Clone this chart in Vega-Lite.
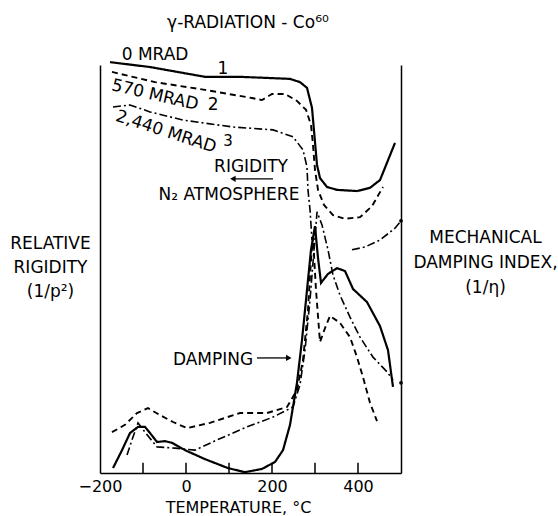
{
  "$schema": "https://vega.github.io/schema/vega-lite/v6.json",
  "width": 301,
  "height": 408,
  "autosize": "none",
  "padding": {"left": 100, "top": 65, "right": 157, "bottom": 43},
  "background": "white",
  "config": {
    "view": {"stroke": null},
    "font": "DejaVu Sans",
    "text": {"font": "DejaVu Sans", "fontSize": 17, "color": "black"},
    "axis": {"domainColor": "black", "domainWidth": 1.5, "tickColor": "black", "tickWidth": 1.5, "grid": false, "labelFont": "DejaVu Sans", "titleFont": "DejaVu Sans", "labelColor": "black", "titleColor": "black", "titleFontWeight": "normal"}
  },
  "datasets": {
    "curves": [
      {"dose": "0 Mrad", "part": "rigidity", "i": 1, "x": -176.7, "y": 100.7},
      {"dose": "0 Mrad", "part": "rigidity", "i": 2, "x": -83.7, "y": 99.5},
      {"dose": "0 Mrad", "part": "rigidity", "i": 3, "x": 44.2, "y": 97.1},
      {"dose": "0 Mrad", "part": "rigidity", "i": 4, "x": 125.6, "y": 97.1},
      {"dose": "0 Mrad", "part": "rigidity", "i": 5, "x": 195.3, "y": 96.8},
      {"dose": "0 Mrad", "part": "rigidity", "i": 6, "x": 241.9, "y": 96.6},
      {"dose": "0 Mrad", "part": "rigidity", "i": 7, "x": 265.1, "y": 95.8},
      {"dose": "0 Mrad", "part": "rigidity", "i": 8, "x": 281.4, "y": 94.4},
      {"dose": "0 Mrad", "part": "rigidity", "i": 9, "x": 293.0, "y": 89.5},
      {"dose": "0 Mrad", "part": "rigidity", "i": 10, "x": 300.0, "y": 81.1},
      {"dose": "0 Mrad", "part": "rigidity", "i": 11, "x": 304.7, "y": 75.5},
      {"dose": "0 Mrad", "part": "rigidity", "i": 12, "x": 311.6, "y": 72.3},
      {"dose": "0 Mrad", "part": "rigidity", "i": 13, "x": 327.9, "y": 70.1},
      {"dose": "0 Mrad", "part": "rigidity", "i": 14, "x": 351.2, "y": 69.4},
      {"dose": "0 Mrad", "part": "rigidity", "i": 15, "x": 397.7, "y": 69.1},
      {"dose": "0 Mrad", "part": "rigidity", "i": 16, "x": 427.9, "y": 69.9},
      {"dose": "0 Mrad", "part": "rigidity", "i": 17, "x": 451.2, "y": 71.8},
      {"dose": "0 Mrad", "part": "rigidity", "i": 18, "x": 486.0, "y": 80.9},

      {"dose": "570 Mrad", "part": "rigidity", "i": 1, "x": -172.1, "y": 98.3},
      {"dose": "570 Mrad", "part": "rigidity", "i": 2, "x": -72.1, "y": 95.8},
      {"dose": "570 Mrad", "part": "rigidity", "i": 3, "x": 44.2, "y": 93.9},
      {"dose": "570 Mrad", "part": "rigidity", "i": 4, "x": 153.5, "y": 91.9},
      {"dose": "570 Mrad", "part": "rigidity", "i": 5, "x": 176.7, "y": 91.4},
      {"dose": "570 Mrad", "part": "rigidity", "i": 6, "x": 200.0, "y": 92.9},
      {"dose": "570 Mrad", "part": "rigidity", "i": 7, "x": 230.2, "y": 92.9},
      {"dose": "570 Mrad", "part": "rigidity", "i": 8, "x": 258.1, "y": 91.2},
      {"dose": "570 Mrad", "part": "rigidity", "i": 9, "x": 279.1, "y": 89.0},
      {"dose": "570 Mrad", "part": "rigidity", "i": 10, "x": 290.7, "y": 85.3},
      {"dose": "570 Mrad", "part": "rigidity", "i": 11, "x": 295.3, "y": 80.4},
      {"dose": "570 Mrad", "part": "rigidity", "i": 12, "x": 300.0, "y": 74.3},
      {"dose": "570 Mrad", "part": "rigidity", "i": 13, "x": 307.0, "y": 69.4},
      {"dose": "570 Mrad", "part": "rigidity", "i": 14, "x": 320.9, "y": 65.7},
      {"dose": "570 Mrad", "part": "rigidity", "i": 15, "x": 341.9, "y": 63.2},
      {"dose": "570 Mrad", "part": "rigidity", "i": 16, "x": 369.8, "y": 62.3},
      {"dose": "570 Mrad", "part": "rigidity", "i": 17, "x": 404.7, "y": 62.7},
      {"dose": "570 Mrad", "part": "rigidity", "i": 18, "x": 432.6, "y": 65.4},
      {"dose": "570 Mrad", "part": "rigidity", "i": 19, "x": 458.1, "y": 70.1},

      {"dose": "2440 Mrad", "part": "rigidity", "i": 1, "x": -169.8, "y": 89.7},
      {"dose": "2440 Mrad", "part": "rigidity", "i": 2, "x": -130.2, "y": 90.2},
      {"dose": "2440 Mrad", "part": "rigidity", "i": 3, "x": -83.7, "y": 88.5},
      {"dose": "2440 Mrad", "part": "rigidity", "i": 4, "x": -7.0, "y": 86.5},
      {"dose": "2440 Mrad", "part": "rigidity", "i": 5, "x": 109.3, "y": 84.8},
      {"dose": "2440 Mrad", "part": "rigidity", "i": 6, "x": 202.3, "y": 84.1},
      {"dose": "2440 Mrad", "part": "rigidity", "i": 7, "x": 248.8, "y": 82.4},
      {"dose": "2440 Mrad", "part": "rigidity", "i": 8, "x": 272.1, "y": 79.2},
      {"dose": "2440 Mrad", "part": "rigidity", "i": 9, "x": 281.4, "y": 75.0},
      {"dose": "2440 Mrad", "part": "rigidity", "i": 10, "x": 283.7, "y": 69.4},
      {"dose": "2440 Mrad", "part": "rigidity", "i": 11, "x": 288.4, "y": 64.5},
      {"dose": "2440 Mrad", "part": "rigidity", "i": 12, "x": 293.0, "y": 57.1},

      {"dose": "2440 Mrad", "part": "rigidity-high", "i": 1, "x": 386.0, "y": 54.7},
      {"dose": "2440 Mrad", "part": "rigidity-high", "i": 2, "x": 416.3, "y": 55.4},
      {"dose": "2440 Mrad", "part": "rigidity-high", "i": 3, "x": 451.2, "y": 57.1},
      {"dose": "2440 Mrad", "part": "rigidity-high", "i": 4, "x": 486.0, "y": 60.0},
      {"dose": "2440 Mrad", "part": "rigidity-high", "i": 5, "x": 500.0, "y": 61.8},

      {"dose": "0 Mrad", "part": "damping", "i": 1, "x": -169.8, "y": 1.2},
      {"dose": "0 Mrad", "part": "damping", "i": 2, "x": -148.8, "y": 5.6},
      {"dose": "0 Mrad", "part": "damping", "i": 3, "x": -130.2, "y": 9.8},
      {"dose": "0 Mrad", "part": "damping", "i": 4, "x": -111.6, "y": 11.3},
      {"dose": "0 Mrad", "part": "damping", "i": 5, "x": -95.3, "y": 11.3},
      {"dose": "0 Mrad", "part": "damping", "i": 6, "x": -83.7, "y": 9.8},
      {"dose": "0 Mrad", "part": "damping", "i": 7, "x": -67.4, "y": 7.6},
      {"dose": "0 Mrad", "part": "damping", "i": 8, "x": -48.8, "y": 7.8},
      {"dose": "0 Mrad", "part": "damping", "i": 9, "x": -32.6, "y": 7.4},
      {"dose": "0 Mrad", "part": "damping", "i": 10, "x": -2.3, "y": 5.6},
      {"dose": "0 Mrad", "part": "damping", "i": 11, "x": 44.2, "y": 3.4},
      {"dose": "0 Mrad", "part": "damping", "i": 12, "x": 97.7, "y": 1.2},
      {"dose": "0 Mrad", "part": "damping", "i": 13, "x": 137.2, "y": 0.2},
      {"dose": "0 Mrad", "part": "damping", "i": 14, "x": 176.7, "y": 1.0},
      {"dose": "0 Mrad", "part": "damping", "i": 15, "x": 207.0, "y": 2.7},
      {"dose": "0 Mrad", "part": "damping", "i": 16, "x": 225.6, "y": 5.6},
      {"dose": "0 Mrad", "part": "damping", "i": 17, "x": 241.9, "y": 11.8},
      {"dose": "0 Mrad", "part": "damping", "i": 18, "x": 258.1, "y": 22.1},
      {"dose": "0 Mrad", "part": "damping", "i": 19, "x": 269.8, "y": 32.6},
      {"dose": "0 Mrad", "part": "damping", "i": 20, "x": 279.1, "y": 42.4},
      {"dose": "0 Mrad", "part": "damping", "i": 21, "x": 290.7, "y": 54.7},
      {"dose": "0 Mrad", "part": "damping", "i": 22, "x": 300.0, "y": 60.5},
      {"dose": "0 Mrad", "part": "damping", "i": 23, "x": 307.0, "y": 52.7},
      {"dose": "0 Mrad", "part": "damping", "i": 24, "x": 314.0, "y": 46.6},
      {"dose": "0 Mrad", "part": "damping", "i": 25, "x": 330.2, "y": 48.8},
      {"dose": "0 Mrad", "part": "damping", "i": 26, "x": 351.2, "y": 50.2},
      {"dose": "0 Mrad", "part": "damping", "i": 27, "x": 369.8, "y": 49.5},
      {"dose": "0 Mrad", "part": "damping", "i": 28, "x": 388.4, "y": 45.1},
      {"dose": "0 Mrad", "part": "damping", "i": 29, "x": 420.9, "y": 41.9},
      {"dose": "0 Mrad", "part": "damping", "i": 30, "x": 451.2, "y": 36.0},
      {"dose": "0 Mrad", "part": "damping", "i": 31, "x": 469.8, "y": 30.1},
      {"dose": "0 Mrad", "part": "damping", "i": 32, "x": 481.4, "y": 21.1},

      {"dose": "570 Mrad", "part": "damping", "i": 1, "x": -172.1, "y": 10.0},
      {"dose": "570 Mrad", "part": "damping", "i": 2, "x": -141.9, "y": 11.8},
      {"dose": "570 Mrad", "part": "damping", "i": 3, "x": -114.0, "y": 14.7},
      {"dose": "570 Mrad", "part": "damping", "i": 4, "x": -88.4, "y": 15.9},
      {"dose": "570 Mrad", "part": "damping", "i": 5, "x": -60.5, "y": 14.2},
      {"dose": "570 Mrad", "part": "damping", "i": 6, "x": -30.2, "y": 12.5},
      {"dose": "570 Mrad", "part": "damping", "i": 7, "x": 2.3, "y": 11.0},
      {"dose": "570 Mrad", "part": "damping", "i": 8, "x": 55.8, "y": 12.3},
      {"dose": "570 Mrad", "part": "damping", "i": 9, "x": 125.6, "y": 14.7},
      {"dose": "570 Mrad", "part": "damping", "i": 10, "x": 188.4, "y": 14.7},
      {"dose": "570 Mrad", "part": "damping", "i": 11, "x": 234.9, "y": 16.2},
      {"dose": "570 Mrad", "part": "damping", "i": 12, "x": 258.1, "y": 20.3},
      {"dose": "570 Mrad", "part": "damping", "i": 13, "x": 272.1, "y": 27.7},
      {"dose": "570 Mrad", "part": "damping", "i": 14, "x": 283.7, "y": 40.0},
      {"dose": "570 Mrad", "part": "damping", "i": 15, "x": 290.7, "y": 52.2},
      {"dose": "570 Mrad", "part": "damping", "i": 16, "x": 295.3, "y": 57.8},
      {"dose": "570 Mrad", "part": "damping", "i": 17, "x": 302.3, "y": 44.9},
      {"dose": "570 Mrad", "part": "damping", "i": 18, "x": 311.6, "y": 32.1},
      {"dose": "570 Mrad", "part": "damping", "i": 19, "x": 323.3, "y": 35.5},
      {"dose": "570 Mrad", "part": "damping", "i": 20, "x": 334.9, "y": 38.5},
      {"dose": "570 Mrad", "part": "damping", "i": 21, "x": 358.1, "y": 36.8},
      {"dose": "570 Mrad", "part": "damping", "i": 22, "x": 381.4, "y": 33.3},
      {"dose": "570 Mrad", "part": "damping", "i": 23, "x": 397.7, "y": 28.4},
      {"dose": "570 Mrad", "part": "damping", "i": 24, "x": 411.6, "y": 23.5},
      {"dose": "570 Mrad", "part": "damping", "i": 25, "x": 427.9, "y": 17.2},
      {"dose": "570 Mrad", "part": "damping", "i": 26, "x": 444.2, "y": 12.7},

      {"dose": "2440 Mrad", "part": "damping", "i": 1, "x": -137.2, "y": 4.4},
      {"dose": "2440 Mrad", "part": "damping", "i": 2, "x": -125.6, "y": 8.1},
      {"dose": "2440 Mrad", "part": "damping", "i": 3, "x": -111.6, "y": 12.3},
      {"dose": "2440 Mrad", "part": "damping", "i": 4, "x": -95.3, "y": 10.0},
      {"dose": "2440 Mrad", "part": "damping", "i": 5, "x": -67.4, "y": 6.4},
      {"dose": "2440 Mrad", "part": "damping", "i": 6, "x": -25.6, "y": 6.1},
      {"dose": "2440 Mrad", "part": "damping", "i": 7, "x": 20.9, "y": 5.6},
      {"dose": "2440 Mrad", "part": "damping", "i": 8, "x": 72.1, "y": 8.1},
      {"dose": "2440 Mrad", "part": "damping", "i": 9, "x": 141.9, "y": 11.3},
      {"dose": "2440 Mrad", "part": "damping", "i": 10, "x": 202.3, "y": 13.7},
      {"dose": "2440 Mrad", "part": "damping", "i": 11, "x": 248.8, "y": 16.2},
      {"dose": "2440 Mrad", "part": "damping", "i": 12, "x": 265.1, "y": 21.6},
      {"dose": "2440 Mrad", "part": "damping", "i": 13, "x": 276.7, "y": 30.1},
      {"dose": "2440 Mrad", "part": "damping", "i": 14, "x": 288.4, "y": 42.4},
      {"dose": "2440 Mrad", "part": "damping", "i": 15, "x": 297.7, "y": 54.7},
      {"dose": "2440 Mrad", "part": "damping", "i": 16, "x": 304.7, "y": 64.0},
      {"dose": "2440 Mrad", "part": "damping", "i": 17, "x": 316.3, "y": 60.8},
      {"dose": "2440 Mrad", "part": "damping", "i": 18, "x": 330.2, "y": 54.7},
      {"dose": "2440 Mrad", "part": "damping", "i": 19, "x": 341.9, "y": 48.5},
      {"dose": "2440 Mrad", "part": "damping", "i": 20, "x": 358.1, "y": 43.6},
      {"dose": "2440 Mrad", "part": "damping", "i": 21, "x": 381.4, "y": 38.2},
      {"dose": "2440 Mrad", "part": "damping", "i": 22, "x": 404.7, "y": 33.3},
      {"dose": "2440 Mrad", "part": "damping", "i": 23, "x": 434.9, "y": 28.4},
      {"dose": "2440 Mrad", "part": "damping", "i": 24, "x": 467.4, "y": 24.8},
      {"dose": "2440 Mrad", "part": "damping", "i": 25, "x": 481.4, "y": 22.8}
    ],
    "dots": [
      {"x": 500, "y": 61.8},
      {"x": 500, "y": 22.1}
    ],
    "ticks": [
      {"t": -100}, {"t": 0}, {"t": 100}, {"t": 200}, {"t": 300}, {"t": 400}
    ],
    "one": [{}]
  },
  "layer": [
    {
      "data": {"name": "curves"},
      "mark": {"type": "line", "color": "black", "strokeCap": "butt"},
      "encoding": {
        "x": {"field": "x", "type": "quantitative", "scale": {"domain": [-200, 500], "nice": false, "zero": false},
          "axis": {"orient": "bottom", "values": [-200, 0, 200, 400], "ticks": false, "labelPadding": 5, "labelFlush": false,
            "format": "d", "labelFontSize": 16,
            "title": "TEMPERATURE, °C", "titleFontSize": 16, "titleX": 138, "titleY": 34, "titleBaseline": "middle", "titleAlign": "center"}},
        "y": {"field": "y", "type": "quantitative", "scale": {"domain": [0, 100], "nice": false, "zero": false},
          "axis": {"orient": "left", "ticks": false, "labels": false,
            "title": ["RELATIVE", "RIGIDITY", "(1/p²)"], "titleAngle": 0, "titleAlign": "center", "titleBaseline": "top",
            "titleX": -50, "titleY": 170, "titleFontSize": 17, "titleLineHeight": 24}},
        "strokeDash": {"field": "dose", "type": "nominal", "legend": null,
          "scale": {"domain": ["0 Mrad", "570 Mrad", "2440 Mrad"], "range": [[1, 0], [6, 4], [8, 3, 2, 3]]}},
        "strokeWidth": {"field": "dose", "type": "nominal", "legend": null,
          "scale": {"domain": ["0 Mrad", "570 Mrad", "2440 Mrad"], "range": [2.2, 1.6, 1.3]}},
        "detail": {"field": "part", "type": "nominal"},
        "order": {"field": "i", "type": "quantitative"}
      }
    },
    {
      "data": {"name": "dots"},
      "mark": {"type": "point", "filled": true, "color": "black", "size": 14, "opacity": 1},
      "encoding": {
        "x": {"field": "x", "type": "quantitative"},
        "y": {"field": "y", "type": "quantitative",
          "axis": {"orient": "right", "ticks": false, "labels": false,
            "title": ["MECHANICAL", "DAMPING INDEX,", "(1/η)"], "titleAngle": 0, "titleAlign": "center", "titleBaseline": "top",
            "titleX": 84, "titleY": 164, "titleFontSize": 17, "titleLineHeight": 25}}
      }
    },
    {
      "data": {"name": "ticks"},
      "mark": {"type": "rule", "color": "black", "strokeWidth": 1.5},
      "encoding": {
        "x": {"field": "t", "type": "quantitative"},
        "y": {"datum": 0, "axis": null},
        "y2": {"datum": 2.5}
      }
    },
    {"data": {"name": "one"}, "mark": {"type": "text", "text": "γ-RADIATION - Co⁶⁰", "fontSize": 17}, "encoding": {"x": {"datum": 144}, "y": {"datum": 110.4, "axis": null}}},
    {"data": {"name": "one"}, "mark": {"type": "text", "text": "0 MRAD"}, "encoding": {"x": {"datum": -72}, "y": {"datum": 102.5, "axis": null}}},
    {"data": {"name": "one"}, "mark": {"type": "text", "text": "1"}, "encoding": {"x": {"datum": 86}, "y": {"datum": 99.0, "axis": null}}},
    {"data": {"name": "one"}, "mark": {"type": "text", "text": "570 MRAD", "angle": 13}, "encoding": {"x": {"datum": -72}, "y": {"datum": 92.6, "axis": null}}},
    {"data": {"name": "one"}, "mark": {"type": "text", "text": "2"}, "encoding": {"x": {"datum": 63}, "y": {"datum": 90.2, "axis": null}}},
    {"data": {"name": "one"}, "mark": {"type": "text", "text": "2,440 MRAD", "angle": 18}, "encoding": {"x": {"datum": -46.5}, "y": {"datum": 83.6, "axis": null}}},
    {"data": {"name": "one"}, "mark": {"type": "text", "text": "3", "fontSize": 15}, "encoding": {"x": {"datum": 97.7}, "y": {"datum": 81.4, "axis": null}}},
    {"data": {"name": "one"}, "mark": {"type": "text", "text": "RIGIDITY"}, "encoding": {"x": {"datum": 151.2}, "y": {"datum": 75.0, "axis": null}}},
    {"data": {"name": "one"}, "mark": {"type": "rule", "color": "black", "strokeWidth": 1.3}, "encoding": {"x": {"datum": 112}, "x2": {"datum": 202.3}, "y": {"datum": 72.1, "axis": null}}},
    {"data": {"name": "one"}, "mark": {"type": "point", "shape": "triangle-left", "filled": true, "color": "black", "size": 40, "opacity": 1}, "encoding": {"x": {"datum": 109}, "y": {"datum": 72.1, "axis": null}}},
    {"data": {"name": "one"}, "mark": {"type": "text", "text": "N₂ ATMOSPHERE"}, "encoding": {"x": {"datum": 100}, "y": {"datum": 68.1, "axis": null}}},
    {"data": {"name": "one"}, "mark": {"type": "text", "text": "DAMPING"}, "encoding": {"x": {"datum": 62.8}, "y": {"datum": 27.7, "axis": null}}},
    {"data": {"name": "one"}, "mark": {"type": "rule", "color": "black", "strokeWidth": 1.3}, "encoding": {"x": {"datum": 165.1}, "x2": {"datum": 236}, "y": {"datum": 28.2, "axis": null}}},
    {"data": {"name": "one"}, "mark": {"type": "point", "shape": "triangle-right", "filled": true, "color": "black", "size": 40, "opacity": 1}, "encoding": {"x": {"datum": 239}, "y": {"datum": 28.2, "axis": null}}}
  ],
  "resolve": {"axis": {"y": "independent"}}
}
